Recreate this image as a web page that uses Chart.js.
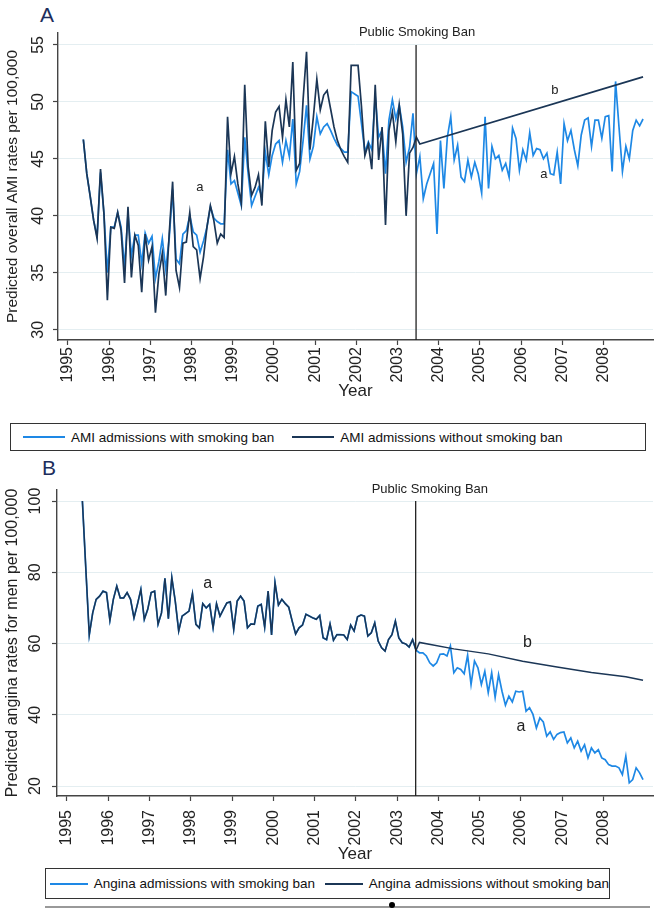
<!DOCTYPE html>
<html>
<head>
<meta charset="utf-8">
<script src="https://cdn.jsdelivr.net/npm/chart.js@4/dist/chart.umd.min.js"></script>
<style>
  body { margin: 0; background: #fff; font-family: "Liberation Sans", Arial, sans-serif; }
  #page { position: relative; width: 658px; height: 912px; overflow: hidden; background: #fff; }
  .panel { position: absolute; left: 0; width: 658px; }
  .letter { position: absolute; font-size: 21px; color: #1d2d5c; line-height: 1; }
  .legend { position: absolute; border: 1px solid #333; background: #fff; color: #111;
            font-size: 13.5px; display: flex; align-items: center; white-space: nowrap; }
  .legend .sw { display: inline-block; width: 42px; border-top: 2px solid; margin: 0 6px 0 6px; }
  #footline { position: absolute; left: 45px; top: 906px; width: 605px; border-top: 2px solid #999; }
  #dot { position: absolute; left: 389px; top: 902px; width: 6px; height: 6px; border-radius: 3px; background: #000; }
</style>
</head>
<body>
<div id="page">
  <div class="letter" style="left:40px;top:4px;">A</div>
  <div class="panel" style="top:0;height:402px;"><canvas id="chartA" width="658" height="402"></canvas></div>
  <div class="legend" style="left:10px;top:423px;width:634px;height:26px;">
    <span class="sw" style="border-color:#1e88e5;margin-left:12px"></span>AMI admissions with smoking ban
    <span class="sw" style="border-color:#1b3656;margin-left:18px"></span>AMI admissions without smoking ban
  </div>

  <div class="letter" style="left:42px;top:457px;">B</div>
  <div class="panel" style="top:455px;height:410px;"><canvas id="chartB" width="658" height="410"></canvas></div>
  <div class="legend" style="left:45px;top:868px;width:563px;height:29px;">
    <span class="sw" style="border-color:#1e88e5;margin-left:4px"></span>Angina admissions with smoking ban
    <span class="sw" style="border-color:#1b3656;margin-left:10px"></span>Angina admissions without smoking ban
  </div>
  <div id="footline"></div>
  <div id="dot"></div>
</div>

<script>
// monthly series, May 1995 .. Dec 2008 (164 months)
var startYear = 1995, startMonth = 5, nMonths = 164;
var monthX = [];
for (var i = 0; i < nMonths; i++) {
    monthX.push(startYear + (startMonth - 1 + i + 0.5) / 12);
}

var yearTicks = [1995, 1996, 1997, 1998, 1999, 2000, 2001, 2002, 2003, 2004, 2005, 2006, 2007, 2008];
var banYear = 2003.45;

// Panel A - AMI
var amiTicks = [30, 35, 40, 45, 50, 55];
var amiWithBan = [
    46.7, 43.7, 41.7, 39.6, 38.2, 43.8, 40.2, 35.0, 39.0, 39.0, 40.3, 39.0,
    35.5, 40.2, 36.5, 38.3, 38.3, 35.8, 38.5, 37.6, 38.2, 34.5, 36.0, 38.0,
    35.3, 38.0, 42.3, 36.2, 35.8, 38.4, 38.7, 40.0, 38.6, 38.3, 36.8, 37.8,
    39.0, 40.8, 39.8, 39.5, 39.3, 39.3, 45.8, 42.8, 43.1, 42.0, 40.9, 46.9,
    43.7, 40.9, 41.7, 42.5, 41.7, 45.6, 43.6, 45.3, 46.3, 46.6, 44.7, 46.6,
    45.2, 48.5, 42.8, 43.9, 46.6, 49.7, 45.0, 46.1, 48.7, 47.2, 47.8, 48.1,
    47.5, 46.8, 46.2, 45.9, 45.6, 45.6, 50.9, 50.7, 50.5, 48.1, 45.6, 46.5,
    45.8, 50.5, 46.9, 47.5, 43.7, 48.4, 50.2, 48.5, 49.7, 47.8, 44.7, 46.0,
    49.0, 43.7, 45.2, 41.5, 42.8, 43.7, 44.6, 38.4, 46.6, 42.4, 46.9, 48.7,
    44.9, 46.2, 43.4, 43.0, 44.9, 43.4, 44.7, 43.7, 42.0, 48.7, 42.4, 46.1,
    45.0, 45.3, 44.0, 44.6, 43.4, 47.7, 46.8, 44.0, 45.8, 44.9, 47.3, 45.3,
    45.9, 45.8, 45.0, 45.5, 43.7, 43.6, 45.6, 42.8, 48.1, 46.6, 47.5, 45.8,
    44.4, 47.1, 48.4, 48.6, 46.1, 48.4, 48.4, 46.8, 48.7, 48.8, 43.9, 51.8,
    47.8, 43.9, 46.1, 45.0, 47.5, 48.4, 47.9, 48.5
];
// observed until the ban, then the projected trend (start and end point only)
var amiWithoutBanPre = [
    46.7, 43.7, 41.7, 39.6, 38.0, 44.1, 40.2, 32.6, 39.0, 38.9, 40.3, 38.7,
    34.1, 40.8, 34.6, 38.3, 37.4, 33.3, 38.4, 36.1, 37.3, 31.5, 34.9, 36.7,
    33.0, 38.4, 43.0, 35.2, 33.7, 37.6, 37.7, 40.3, 37.3, 37.0, 34.5, 36.4,
    39.0, 40.9, 39.6, 37.6, 38.4, 38.1, 48.7, 43.7, 45.2, 42.8, 41.1, 51.5,
    44.3, 41.8, 42.5, 43.6, 40.9, 48.3, 44.3, 47.5, 49.1, 49.6, 46.9, 50.2,
    47.8, 53.5, 44.0, 44.6, 50.2, 54.4, 45.8, 48.7, 52.0, 49.3, 50.6, 51.0,
    49.4, 47.8, 46.6, 45.8, 45.2, 44.7, 53.2, 53.2, 53.2, 49.6, 45.3, 46.3,
    44.1, 51.5, 44.9, 47.8, 39.2, 47.5, 49.1, 46.5, 49.7, 47.2, 40.0, 45.5,
    46.0, 46.9, 46.3
];
var amiTrendEnd = 52.2;

// Panel B - angina, men
var anginaTicks = [20, 40, 60, 80, 100];
var anginaPre = [
    100, 81.0, 62.4, 68.6, 72.4, 73.3, 74.7, 74.3, 66.5, 72.4, 76.1, 72.8,
    72.8, 74.3, 72.4, 67.2, 71.0, 75.2, 66.8, 69.6, 74.3, 74.7, 65.4, 68.6,
    78.3, 67.0, 78.5, 71.9, 63.5, 67.7, 68.4, 69.1, 74.0, 65.4, 64.4, 71.2,
    70.0, 71.0, 64.4, 71.2, 67.7, 69.6, 71.4, 71.7, 64.0, 71.9, 73.3, 71.9,
    64.4, 65.5, 65.4, 70.5, 71.0, 64.6, 74.7, 62.4, 77.1, 70.8, 72.4, 71.2,
    70.2, 66.3, 62.7, 64.4, 65.2, 68.2, 67.7, 67.2, 66.8, 67.9, 61.6, 61.1,
    65.5, 60.9, 62.5, 62.5, 62.4, 61.1, 65.2, 63.5, 67.5, 68.0, 67.7, 62.1,
    63.0, 65.8, 60.7, 58.8, 57.9, 61.1, 62.5, 66.3, 61.6, 60.2, 59.9, 59.0,
    61.1, 58.1
];
var anginaWithBanPost = [
    57.4, 57.4, 56.5, 54.6, 53.7, 54.6, 57.0, 57.1, 56.5, 59.3, 51.8, 53.2,
    52.7, 51.5, 56.7, 48.5, 55.1, 53.2, 48.5, 52.2, 46.2, 51.8, 44.9, 51.3,
    46.6, 42.7, 45.2, 43.6, 46.6, 46.4, 46.6, 41.0, 42.0, 40.1, 36.3, 39.1,
    38.0, 34.0, 35.2, 33.1, 34.5, 35.0, 35.2, 32.1, 33.5, 30.7, 32.6, 29.8,
    31.6, 27.9, 30.7, 29.3, 30.2, 27.9, 27.4, 26.0, 25.6, 25.6, 25.1, 23.2,
    28.4, 20.9, 21.8, 25.1, 23.7, 21.8
];
// projected trend without the ban, read every 10 months
var anginaTrendMonths = [98, 108, 118, 128, 138, 148, 158, 163];
var anginaTrendValues = [60.3, 58.5, 57.1, 55.0, 53.4, 51.9, 50.7, 49.7];

var lightBlue = '#1e88e5';
var navy = '#1b3656';
var font = '"Liberation Sans", Arial, sans-serif';

function toPoints(values, offset) {
    return values.map(function (v, i) { return { x: monthX[i + (offset || 0)], y: v }; });
}

var overlay = {
    id: 'overlay',
    afterDraw: function (chart, args, o) {
        var ctx = chart.ctx, xs = chart.scales.x, ys = chart.scales.y, area = chart.chartArea;
        ctx.save();
        // vertical y tick labels
        ctx.fillStyle = '#222';
        ctx.font = o.tickSize + 'px ' + font;
        ctx.textAlign = 'center';
        ctx.textBaseline = 'middle';
        o.yTicks.forEach(function (v) {
            ctx.save();
            ctx.translate(area.left - o.tickOffset, ys.getPixelForValue(v));
            ctx.rotate(-Math.PI / 2);
            ctx.fillText(String(v), 0, 0);
            ctx.restore();
        });
        // ban line
        var bx = xs.getPixelForValue(banYear);
        ctx.strokeStyle = '#222';
        ctx.lineWidth = 1.3;
        ctx.beginPath();
        ctx.moveTo(bx, ys.getPixelForValue(o.banTop));
        ctx.lineTo(bx, area.bottom);
        ctx.stroke();
        ctx.font = o.banSize + 'px ' + font;
        ctx.textAlign = o.banAlign;
        ctx.fillText('Public Smoking Ban', bx + o.banDx, o.banY);
        // a / b labels
        ctx.font = o.noteSize + 'px ' + font;
        ctx.textAlign = 'center';
        o.notes.forEach(function (n) {
            ctx.fillText(n[0], xs.getPixelForValue(n[1]), ys.getPixelForValue(n[2]));
        });
        ctx.restore();
    }
};

function makeChart(id, cfg) {
    return new Chart(document.getElementById(id), {
        type: 'line',
        data: { datasets: cfg.datasets },
        options: {
            responsive: false,
            animation: false,
            events: [],
            layout: { padding: { top: cfg.padTop, right: 5, left: 0, bottom: 0 } },
            elements: { point: { radius: 0 }, line: { tension: 0, borderWidth: 1.7 } },
            plugins: {
                legend: { display: false },
                tooltip: { enabled: false },
                overlay: cfg.overlay
            },
            scales: {
                x: {
                    type: 'linear',
                    min: 1994.76,
                    max: 2009.2,
                    afterBuildTicks: function (s) { s.ticks = yearTicks.map(function (v) { return { value: v }; }); },
                    afterFit: function (s) { s.height = cfg.xHeight; },
                    ticks: {
                        autoSkip: false, minRotation: 90, maxRotation: 90, padding: cfg.xPad,
                        color: '#222', font: { family: font, size: cfg.xTickSize },
                        callback: function (v) { return String(v); }
                    },
                    grid: { drawOnChartArea: false, tickLength: 5, tickColor: '#444', tickWidth: 1.2 },
                    border: { color: '#444', width: 1.4 },
                    title: { display: true, text: 'Year', color: '#222', font: { family: font, size: 17 },
                             padding: { top: 0, bottom: 0 } }
                },
                y: {
                    min: cfg.yMin,
                    max: cfg.yMax,
                    afterBuildTicks: function (s) { s.ticks = cfg.yTicks.map(function (v) { return { value: v }; }); },
                    afterFit: function (s) { s.width = cfg.yWidth; },
                    ticks: { color: 'rgba(0,0,0,0)', font: { family: font, size: 14 } },
                    grid: { color: '#e4eef1', lineWidth: 1, tickLength: 5, tickColor: '#444', tickWidth: 1.2 },
                    border: { color: '#444', width: 1.4 },
                    title: { display: true, text: cfg.yTitle, color: '#222', font: { family: font, size: cfg.yTitleSize },
                             padding: { top: 3, bottom: 0 } }
                }
            }
        },
        plugins: [overlay]
    });
}

// Panel A
var amiWithoutData = toPoints(amiWithoutBanPre);
amiWithoutData.push({ x: monthX[nMonths - 1], y: amiTrendEnd });

makeChart('chartA', {
    padTop: 33, xHeight: 62, xPad: 2, xTickSize: 16, yWidth: 58,
    yMin: 29.1, yMax: 56.05, yTicks: amiTicks, yTitleSize: 15.5,
    yTitle: 'Predicted overall AMI rates per 100,000',
    datasets: [
        { label: 'AMI admissions with smoking ban', data: toPoints(amiWithBan), borderColor: lightBlue, order: 2 },
        { label: 'AMI admissions without smoking ban', data: amiWithoutData, borderColor: navy, order: 1 }
    ],
    overlay: {
        yTicks: amiTicks, tickSize: 16, tickOffset: 19, banTop: 55,
        banSize: 13, banAlign: 'center', banDx: 1, banY: 32, noteSize: 13,
        notes: [['a', 1998.2, 42.5], ['b', 2006.82, 51.05], ['a', 2006.55, 43.6]]
    }
});

// Panel B
var anginaWithData = toPoints(anginaPre).concat(toPoints(anginaWithBanPost, anginaPre.length));
var anginaWithoutData = toPoints(anginaPre);
anginaTrendMonths.forEach(function (m, k) {
    anginaWithoutData.push({ x: monthX[m], y: anginaTrendValues[k] });
});

makeChart('chartB', {
    padTop: 35, xHeight: 69, xPad: 9, xTickSize: 16, yWidth: 57,
    yMin: 17.2, yMax: 103.1, yTicks: anginaTicks, yTitleSize: 16,
    yTitle: 'Predicted angina rates for men per 100,000',
    datasets: [
        { label: 'Angina admissions with smoking ban', data: anginaWithData, borderColor: lightBlue, order: 2 },
        { label: 'Angina admissions without smoking ban', data: anginaWithoutData, borderColor: navy, order: 1, borderWidth: 1.5 }
    ],
    overlay: {
        yTicks: anginaTicks, tickSize: 16, tickOffset: 21, banTop: 100,
        banSize: 13, banAlign: 'left', banDx: -44, banY: 34, noteSize: 16,
        notes: [['a', 1998.41, 76.7], ['b', 2006.16, 60.4], ['a', 2006.0, 36.8]]
    }
});
</script>
</body>
</html>
